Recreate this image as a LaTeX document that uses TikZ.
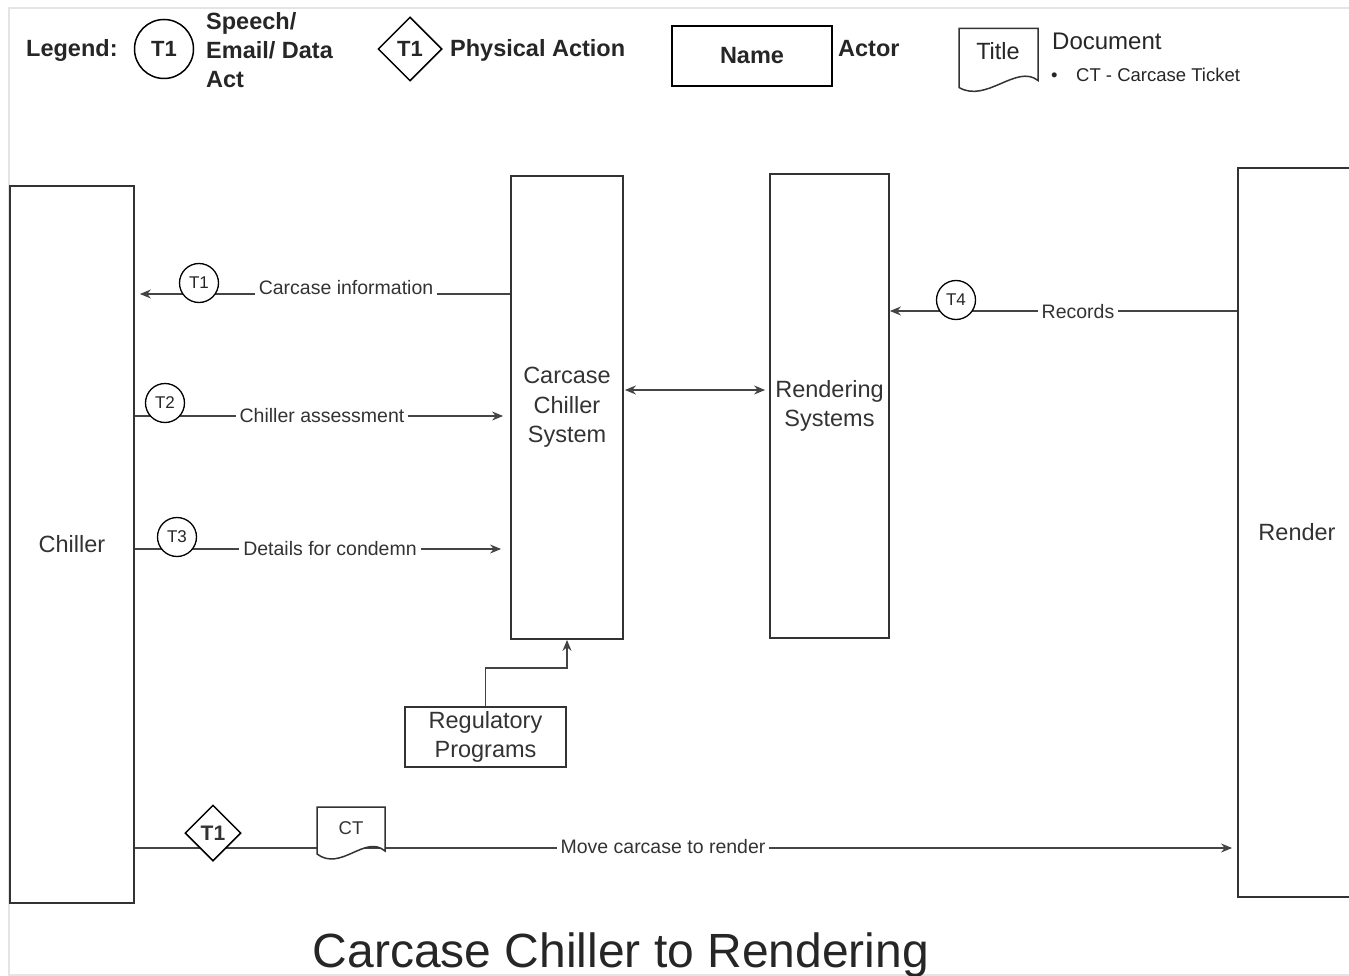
\documentclass[tikz,border=0pt]{standalone}
\usepackage{fontspec}
\setmainfont{Liberation Sans}
\usetikzlibrary{shapes.geometric,arrows.meta,calc}
\definecolor{ink}{HTML}{333333}
\definecolor{lineink}{HTML}{444444}
\definecolor{framecol}{HTML}{E4E4E4}
\tikzset{
 actor/.style={draw=ink, line width=1.8pt, inner sep=0pt, font=\fontsize{23.5}{29.5}\selectfont, text=ink, align=center},
 tcirc/.style={circle, draw=black, line width=1.3pt, fill=white, minimum size=39pt, inner sep=0pt, font=\fontsize{17}{17}\selectfont, text=black!85},
 flow/.style={draw=lineink, line width=1.3pt},
 tip/.style={-{Stealth[length=11pt,width=9pt]}},
 lab/.style={fill=white, inner ysep=1.5pt, inner xsep=4pt, font=\fontsize{19.5}{19.5}\selectfont, text=ink, anchor=mid},
 docshape/.style={draw=ink, line width=1.5pt, fill=white},
 legbold/.style={font=\bfseries\fontsize{23.5}{29}\selectfont, text=black!85, inner sep=0pt},
 legdiam/.style={diamond, draw=black, line width=1.5pt, fill=white, inner sep=0pt},
}
\begin{document}
\begin{tikzpicture}[x=1pt,y=-1pt]
\useasboundingbox (0,0) rectangle (1349,976);
\draw[framecol, line width=1.2pt] (1349,8) -- (9,8) -- (9,975) -- (1349,975);

% ---------- Legend ----------
\node[legbold, anchor=west] (legend) at (26,50) {Legend:};
\node[circle, draw=black, line width=1.5pt, minimum size=59pt, inner sep=0pt, font=\bfseries\fontsize{22}{22}\selectfont, text=black!85] (legcirc) at (164,49) {T1};
\node[legbold, anchor=west, align=left] (legspeech) at (206,50) {Speech/\\Email/ Data\\Act};
\node[legdiam, minimum width=64pt, minimum height=64pt, font=\bfseries\fontsize{22}{22}\selectfont, text=black!85] (legdiam) at (410,49) {T1};
\node[legbold, anchor=west] (legphys) at (450,50) {Physical Action};
\node[draw=black, line width=1.8pt, minimum width=160pt, minimum height=60pt, inner sep=0pt, font=\bfseries\fontsize{23.5}{29}\selectfont, text=black!85] (legname) at (752,56) {Name};
\node[legbold, anchor=west] (legactor) at (838,49) {Actor};
\coordinate (legdocc) at (998.5,59.5);
\begin{scope}[shift={(legdocc)}]
\draw[docshape] (-39.5,-31) -- (39.5,-31) -- (39.5,21) .. controls (18,4) and (-12,44) .. (-39.5,28) -- cycle;
\end{scope}
\node[font=\fontsize{23.5}{23.5}\selectfont, text=black!85] (legtitle) at (998,51) {Title};
\node[anchor=west, font=\fontsize{24}{24}\selectfont, text=black!85, inner sep=0pt] (legdoc) at (1052,41) {Document};
\node[anchor=west, font=\fontsize{18.5}{18.5}\selectfont, text=black!85, inner sep=0pt] (legct) at (1051,75) {\textbullet\quad CT - Carcase Ticket};

% ---------- Actors ----------
\node[actor, minimum width=124pt, minimum height=717pt] (chiller) at (72,544.5) {Chiller};
\node[actor, minimum width=112pt, minimum height=463pt] (ccs) at (567,407.5) {Carcase\\Chiller\\System};
\node[actor, minimum width=119pt, minimum height=464pt] (rs) at (829.5,406) {Rendering\\Systems};
\node[actor, minimum width=118pt, minimum height=729pt] (render) at (1297,532.5) {Render};
\node[actor, line width=1.5pt, minimum width=161pt, minimum height=60pt] (reg) at (485.5,737) {Regulatory\\Programs};

% ---------- Connectors ----------
\draw[flow, tip, shorten >=5pt] (ccs.west |- 0,294) -- (chiller.east |- 0,294);
\node[lab] (lab1) at (346,292) {Carcase information};
\node[tcirc] (t1) at (199,283) {T1};

\draw[flow, tip, shorten >=7pt] (chiller.east |- 0,416) -- (ccs.west |- 0,416);
\node[lab] (lab2) at (322,420) {Chiller assessment};
\node[tcirc] (t2) at (165,403) {T2};

\draw[flow, tip, shorten >=9pt] (chiller.east |- 0,549) -- (ccs.west |- 0,549);
\node[lab] (lab3) at (330,553) {Details for condemn};
\node[tcirc] (t3) at (177,537) {T3};

\draw[flow, {Stealth[length=11pt,width=9pt]}-{Stealth[length=11pt,width=9pt]}, shorten <=1pt, shorten >=4pt] (ccs.east |- 0,390) -- (rs.west |- 0,390);

\draw[flow, tip] (render.west |- 0,311) -- (rs.east |- 0,311);
\node[lab] (lab4) at (1078,315.5) {Records};
\node[tcirc] (t4) at (956,300) {T4};

\draw[flow, tip] (reg.north) |- ($(ccs.south)+(0,28)$) -- (ccs.south);

\draw[flow, tip, shorten >=5pt] (chiller.east |- 0,848) -- (render.west |- 0,848);
\node[lab] (lab5) at (663,851) {Move carcase to render};
\node[legdiam, minimum width=56pt, minimum height=56pt, font=\bfseries\fontsize{21}{21}\selectfont, text=ink] (d1) at (213,833) {T1};
\coordinate (ctc) at (351,832);
\begin{scope}[shift={(ctc)}]
\draw[docshape] (-34,-25) -- (34,-25) -- (34,19) .. controls (14,2) and (-10,40) .. (-34,22) -- cycle;
\end{scope}
\node[font=\fontsize{18.5}{18.5}\selectfont, text=ink] (ct) at (351,828) {CT};

% ---------- Title ----------
\node[anchor=base, font=\fontsize{48}{48}\selectfont, text=black!85, inner sep=0pt] (title) at (621,967) {Carcase Chiller to Rendering};
\end{tikzpicture}
\end{document}
